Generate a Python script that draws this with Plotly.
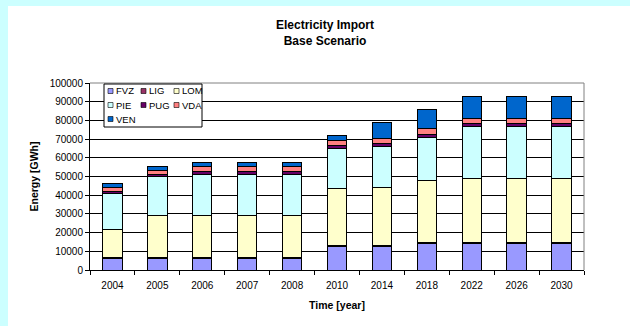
import plotly.graph_objects as go

years = ["2004", "2005", "2006", "2007", "2008", "2010", "2014", "2018", "2022", "2026", "2030"]
FVZ = [6000, 6000, 6000, 6000, 6000, 12500, 12500, 14000, 14000, 14000, 14000]
LIG = [600, 600, 600, 600, 600, 700, 700, 700, 700, 700, 700]
LOM = [15200, 22700, 22700, 22700, 22700, 30500, 30800, 32900, 34300, 34300, 34300]
PIE = [19000, 20500, 22000, 22000, 22000, 21400, 21900, 23200, 27600, 27600, 27600]
PUG = [1000, 1500, 1200, 1200, 1200, 1400, 1800, 1900, 1500, 1500, 1500]
VDA = [2500, 2100, 3100, 3100, 3100, 3000, 2500, 3100, 3000, 3000, 3000]
VEN = [2000, 2200, 1900, 1900, 1900, 2200, 8800, 10100, 11600, 11600, 11600]

series_names = ["FVZ", "LIG", "LOM", "PIE", "PUG", "VDA", "VEN"]
series_values = [FVZ, LIG, LOM, PIE, PUG, VDA, VEN]
series_colors = ["#9999ff", "#993366", "#ffffcc", "#ccffff", "#660066", "#ff8080", "#0066cc"]

y_ticks = [0, 10000, 20000, 30000, 40000, 50000, 60000, 70000, 80000, 90000, 100000]

FONT = "Liberation Sans, Arial, sans-serif"
W, H = 630, 326
L, R, T, B = 90, 584, 83, 270


def px(x):
    return (x - L) / (R - L)


def py(y):
    return (B - y) / (B - T)


fig = go.Figure()
for name, vals, col in zip(series_names, series_values, series_colors):
    fig.add_trace(go.Bar(
        x=years, y=vals, name=name,
        marker=dict(color=col, line=dict(color="#000000", width=1)),
        showlegend=False,
    ))

shapes = []
annotations = []

# white chart area over cyan background
shapes.append(dict(type="rect", xref="paper", yref="paper",
                   x0=px(8), x1=px(660), y0=py(360), y1=py(6),
                   fillcolor="#ffffff", line=dict(width=0), layer="below"))
# gray frame top/right
shapes.append(dict(type="line", xref="paper", yref="paper", x0=0, x1=1, y0=1, y1=1,
                   line=dict(color="#808080", width=1), layer="above"))
shapes.append(dict(type="line", xref="paper", yref="paper", x0=1, x1=1, y0=0, y1=1,
                   line=dict(color="#808080", width=1), layer="above"))

# legend box
shapes.append(dict(type="rect", xref="paper", yref="paper",
                   x0=px(104), x1=px(202), y0=py(127), y1=py(84),
                   fillcolor="#ffffff", line=dict(color="#000000", width=1), layer="above"))
col_x = [110.5, 143.5, 176.5]
row_y = [91, 105, 119]
for i, (name, col) in enumerate(zip(series_names, series_colors)):
    r, c = divmod(i, 3)
    cx, cy = col_x[c], row_y[r]
    shapes.append(dict(type="rect", xref="paper", yref="paper",
                       xsizemode="pixel", ysizemode="pixel",
                       xanchor=px(cx), yanchor=py(cy),
                       x0=-2.5, x1=2.5, y0=-2.5, y1=2.5,
                       fillcolor=col, line=dict(color="#000000", width=0.6), layer="above"))
    annotations.append(dict(xref="paper", yref="paper", x=px(cx + 3), y=py(cy),
                            xanchor="left", yanchor="middle", showarrow=False,
                            text=name, font=dict(family=FONT, size=9.5, color="#000000")))

fig.update_layout(
    width=W, height=H,
    margin=dict(l=L, r=W - R, t=T, b=H - B, pad=0),
    paper_bgcolor="#ccffff",
    plot_bgcolor="#ffffff",
    barmode="stack",
    bargap=0.57,
    title=dict(text="<b>Electricity Import</b><br><b>Base Scenario</b>",
               x=325 / W, xanchor="center", y=1 - 29 / H, yanchor="middle",
               font=dict(family=FONT, size=12, color="#000000")),
    font=dict(family=FONT, size=10, color="#000000"),
    shapes=shapes,
    annotations=annotations,
    showlegend=False,
)
fig.update_xaxes(
    type="category",
    showline=True, linecolor="#000000", linewidth=1,
    ticks="outside", ticklen=4, tickcolor="#000000", tickson="boundaries",
    ticklabelstandoff=6,
    showgrid=False,
    tickfont=dict(family=FONT, size=10, color="#000000"),
    title=dict(text="<b>Time [year]</b>", font=dict(family=FONT, size=10.5, color="#000000"),
               standoff=11),
)
fig.update_yaxes(
    range=[0, 100000], tickvals=y_ticks, ticktext=[str(v) for v in y_ticks],
    showline=True, linecolor="#000000", linewidth=1,
    ticks="outside", ticklen=4, tickcolor="#000000",
    showgrid=True, gridcolor="#000000", gridwidth=1,
    zeroline=False,
    tickfont=dict(family=FONT, size=10, color="#000000"),
    title=dict(text="<b>Energy [GWh]</b>", font=dict(family=FONT, size=10.5, color="#000000"),
               standoff=8),
)

fig.write_html("out.html")
